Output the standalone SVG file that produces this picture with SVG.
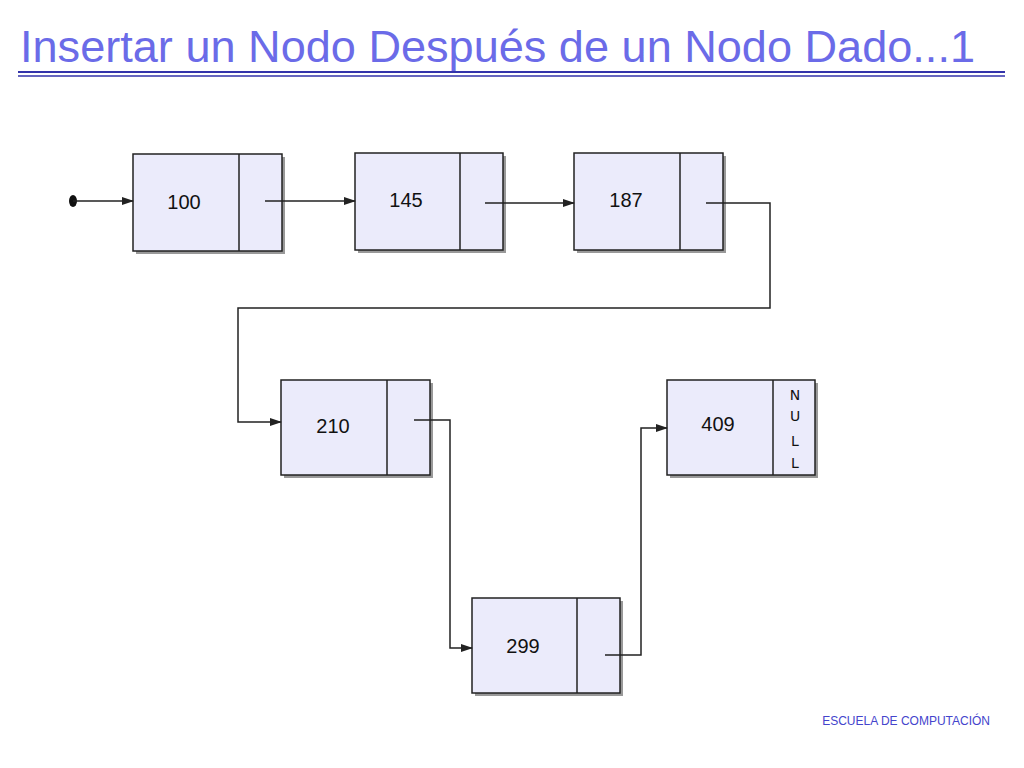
<svg xmlns="http://www.w3.org/2000/svg" width="1024" height="768" viewBox="0 0 1024 768">
<style>
.box{fill:#ebebfb;stroke:#222;stroke-width:1.5}
.sh{fill:#555;opacity:.6}
.div{stroke:#222;stroke-width:1.5}
.lbl{font-family:"Liberation Sans Narrow","Liberation Sans",sans-serif;font-size:20px;fill:#111;text-anchor:middle}
.c{fill:none;stroke:#222;stroke-width:1.5;marker-end:url(#a)}
</style>
<defs>
<marker id="a" markerWidth="12" markerHeight="8" refX="11" refY="4" orient="auto" markerUnits="userSpaceOnUse"><path d="M0,0 L12,4 L0,8 z" fill="#222"/></marker>
</defs>
<rect width="1024" height="768" fill="#fff"/>
<text x="20" y="62" font-family="Liberation Sans,Arial,sans-serif" font-size="45" fill="#6b6be8" textLength="955" lengthAdjust="spacingAndGlyphs">Insertar un Nodo Después de un Nodo Dado...1</text>
<line x1="18" y1="72" x2="1005" y2="72" stroke="#3333aa" stroke-width="2"/>
<line x1="18" y1="76" x2="1005" y2="76" stroke="#3333aa" stroke-width="1.5"/>
<g id="n100"><rect class="sh" x="136" y="157" width="149" height="97"/><rect class="box" x="133" y="154" width="149" height="97"/><line class="div" x1="239" y1="154" x2="239" y2="251"/><text class="lbl" x="184" y="209">100</text></g>
<g id="n145"><rect class="sh" x="358" y="156" width="148" height="97"/><rect class="box" x="355" y="153" width="148" height="97"/><line class="div" x1="460" y1="153" x2="460" y2="250"/><text class="lbl" x="406" y="207">145</text></g>
<g id="n187"><rect class="sh" x="577" y="156" width="149" height="97"/><rect class="box" x="574" y="153" width="149" height="97"/><line class="div" x1="680" y1="153" x2="680" y2="250"/><text class="lbl" x="626" y="207">187</text></g>
<g id="n210"><rect class="sh" x="284" y="383" width="149" height="95"/><rect class="box" x="281" y="380" width="149" height="95"/><line class="div" x1="387" y1="380" x2="387" y2="475"/><text class="lbl" x="333" y="433">210</text></g>
<g id="n299"><rect class="sh" x="475" y="601" width="148" height="95"/><rect class="box" x="472" y="598" width="148" height="95"/><line class="div" x1="577" y1="598" x2="577" y2="693"/><text class="lbl" x="523" y="653">299</text></g>
<g id="n409"><rect class="sh" x="670" y="383" width="148" height="95"/><rect class="box" x="667" y="380" width="148" height="95"/><line class="div" x1="773" y1="380" x2="773" y2="475"/><text class="lbl" x="718" y="431">409</text>
<g font-family="DejaVu Sans,sans-serif" font-size="14" fill="#111" text-anchor="middle"><text x="795" y="400">N</text><text x="795" y="421">U</text><text x="795" y="446">L</text><text x="795" y="468">L</text></g></g>
<g id="connectors">
<ellipse cx="73" cy="201" rx="4" ry="6" fill="#111"/>
<path class="c" d="M73,201 H133"/>
<path class="c" d="M265,201 H355"/>
<path class="c" d="M485,203 H574"/>
<path class="c" d="M706,203 H770 V308 H238 V422 H281"/>
<path class="c" d="M414,420 H450 V648 H472"/>
<path class="c" d="M605,655 H641 V428 H667"/>
</g>
<text x="990" y="725" font-family="Liberation Sans,Arial,sans-serif" font-size="12" fill="#4444cc" text-anchor="end">ESCUELA DE COMPUTACIÓN</text>
</svg>
